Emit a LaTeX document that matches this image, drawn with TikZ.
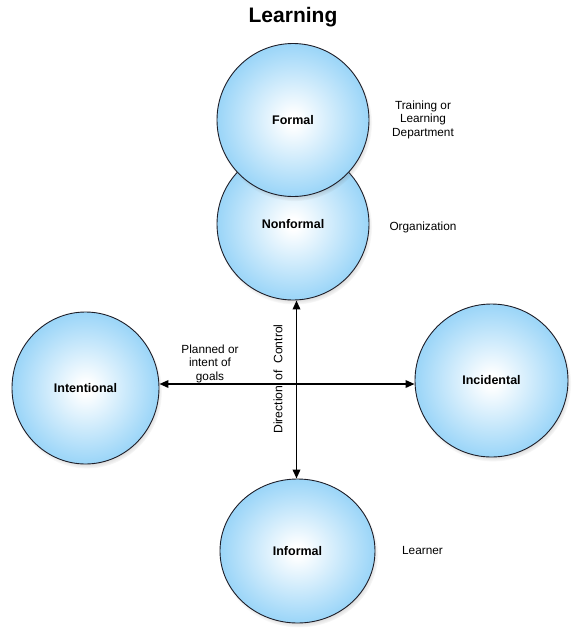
\documentclass[tikz,border=0pt]{standalone}
\usepackage{fontspec}
\setmainfont{Liberation Sans}
\usetikzlibrary{shapes.geometric,arrows.meta,shadows,fadings}
\definecolor{bubbleblue}{RGB}{128,202,246}
\definecolor{rimcol}{RGB}{30,30,40}
\pgfdeclareradialshading{bubble}{\pgfpointorigin}{color(0bp)=(white); color(2bp)=(white); color(31bp)=(bubbleblue); color(50bp)=(bubbleblue)}
\begin{document}
\begin{tikzpicture}[x=1pt,y=-1pt,
  bubble/.style={ellipse, draw=rimcol, line width=0.9pt, shading=bubble, inner sep=0pt,
     font=\fontsize{12.5}{14}\selectfont\bfseries,
     circular drop shadow={shadow scale=1.02, shadow xshift=1.5pt, shadow yshift=-3pt, opacity=0.5, fill=black!60}},
  note/.style={align=center, font=\fontsize{11.8}{13.5}\selectfont, inner sep=0pt},
  dirarrow/.style={line width=1.8pt, {Triangle[length=9pt,width=7.5pt]}-{Triangle[length=9pt,width=7.5pt]}}
]
\useasboundingbox (0,0) rectangle (580,638);
\node[font=\fontsize{21}{24}\selectfont\bfseries, inner sep=0pt, anchor=base] (title) at (293,22.5) {Learning};
\node[bubble, minimum width=152pt, minimum height=152pt] (nonformal) at (293,224) {Nonformal};
\node[bubble, minimum width=152pt, minimum height=153pt] (formal) at (293,120) {Formal};
\node[bubble, minimum width=147pt, minimum height=152pt] (intentional) at (85.5,388) {Intentional};
\node[bubble, minimum width=153pt, minimum height=153pt] (incidental) at (491.5,380.5) {Incidental};
\node[bubble, minimum width=155pt, minimum height=144pt] (informal) at (297.5,551) {Informal};
\coordinate (cross) at (296.5,384);
\draw[dirarrow] (intentional.east |- cross) -- (incidental.west |- cross);
\draw[dirarrow] (nonformal.south -| cross) -- (informal.north -| cross);
\node[note] (planned) at (210,363.5) {Planned or\\intent of\\goals};
\node[note, rotate=90, font=\fontsize{12.2}{14}\selectfont] (direction) at (278,379) {Direction\hspace{0.4em}of\hspace{0.55em}Control};
\node[note] (training) at (423,119.5) {Training or\\Learning\\Department};
\node[note] (organization) at (423,227) {Organization};
\node[note] (learner) at (422.5,550) {Learner};
\end{tikzpicture}
\end{document}
